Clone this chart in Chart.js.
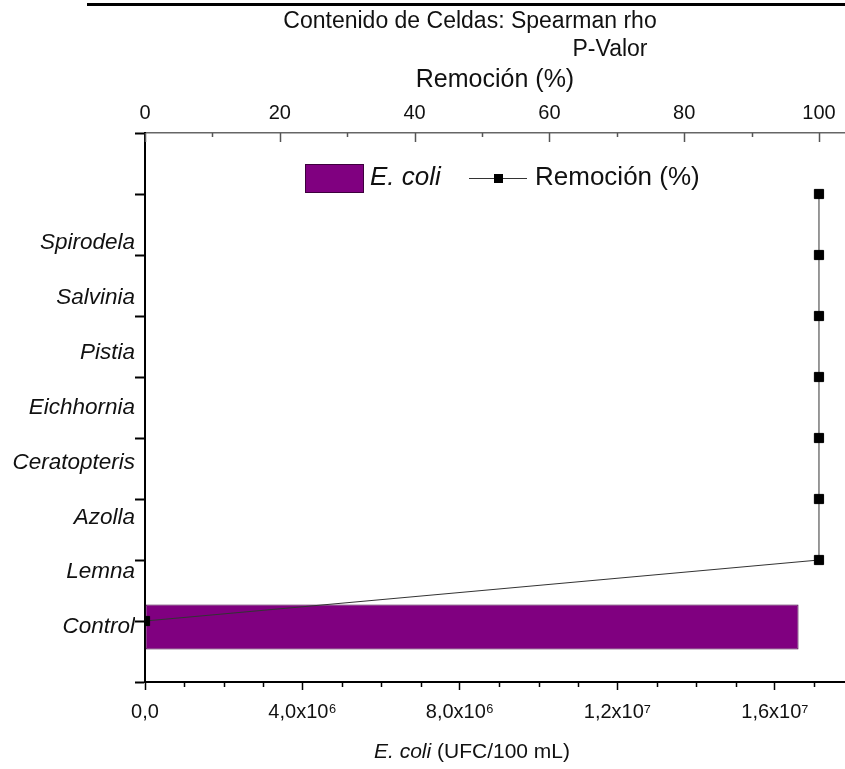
<!DOCTYPE html>
<html>
<head>
<meta charset="utf-8">
<script src="https://cdn.jsdelivr.net/npm/chart.js@4.4.0/dist/chart.umd.min.js"></script>
<style>
  html, body { margin: 0; padding: 0; background: #fff; }
  canvas { display: block; }
</style>
</head>
<body>
<canvas id="chart" width="845" height="769"></canvas>
<script>
// datos
const categories = ['Control', 'Lemna', 'Azolla', 'Ceratopteris', 'Eichhornia', 'Pistia', 'Salvinia', 'Spirodela'];
const ecoli = [16600000, 0, 0, 0, 0, 0, 0, 0];          // UFC/100 mL
const remocion = [0, 100, 100, 100, 100, 100, 100, 100]; // %
const ecoliTicks = [0, 4000000, 8000000, 12000000, 16000000];
const ecoliTickLabels = ['0,0', '4,0x10⁶', '8,0x10⁶', '1,2x10⁷', '1,6x10⁷'];
const remocionTicks = [0, 20, 40, 60, 80, 100];
const headerLines = ['Contenido de Celdas: Spearman rho', 'P-Valor'];

const FONT = "'Liberation Sans', Arial, sans-serif";
Chart.defaults.font.family = FONT;
Chart.defaults.color = '#111';

const decor = {
  id: 'decor',
  afterDraw(chart) {
    const { ctx, chartArea: a, scales } = chart;
    ctx.save();

    // linea superior y encabezados
    ctx.fillStyle = '#000';
    ctx.fillRect(87, 3, chart.width - 87, 3);
    ctx.fillStyle = '#111';
    ctx.textBaseline = 'middle';
    ctx.textAlign = 'center';
    ctx.font = '23px ' + FONT;
    ctx.fillText(headerLines[0], 470, 22);
    ctx.fillText(headerLines[1], 610, 50);

    // ticks menores eje inferior
    ctx.strokeStyle = '#000';
    ctx.lineWidth = 1.5;
    for (let i = 1; i * 1e6 <= scales.x.max; i++) {
      if (i % 4 === 0) continue;
      const px = Math.round(scales.x.getPixelForValue(i * 1e6)) + 0.5;
      ctx.beginPath();
      ctx.moveTo(px, a.bottom);
      ctx.lineTo(px, a.bottom + 5);
      ctx.stroke();
    }

    // ticks hacia adentro eje superior
    ctx.strokeStyle = '#555';
    for (let i = 0; i * 10 <= scales.x2.max; i++) {
      const px = Math.round(scales.x2.getPixelForValue(i * 10)) + 0.5;
      ctx.beginPath();
      ctx.moveTo(px, a.top);
      ctx.lineTo(px, a.top + (i % 2 === 0 ? 9 : 4));
      ctx.stroke();
    }

    // leyenda
    const ly = 178;
    ctx.fillStyle = '#800080';
    ctx.fillRect(305, 164, 59, 29);
    ctx.strokeStyle = '#3d003d';
    ctx.lineWidth = 1;
    ctx.strokeRect(305.5, 164.5, 58, 28);
    ctx.fillStyle = '#111';
    ctx.textAlign = 'left';
    ctx.font = 'italic 26px ' + FONT;
    ctx.fillText(chart.data.datasets[1].label, 370, ly);
    ctx.strokeStyle = '#333';
    ctx.beginPath();
    ctx.moveTo(469, ly + 0.5);
    ctx.lineTo(527, ly + 0.5);
    ctx.stroke();
    ctx.fillStyle = '#000';
    ctx.fillRect(494, ly - 4, 9, 9);
    ctx.fillStyle = '#111';
    ctx.font = '26px ' + FONT;
    ctx.fillText(chart.data.datasets[0].label, 535, ly);

    // titulo eje inferior
    const t1 = 'E. coli', t2 = ' (UFC/100 mL)';
    ctx.font = 'italic 21px ' + FONT;
    const w1 = ctx.measureText(t1).width;
    ctx.font = '21px ' + FONT;
    const w2 = ctx.measureText(t2).width;
    const x0 = 472 - (w1 + w2) / 2;
    ctx.font = 'italic 21px ' + FONT;
    ctx.fillText(t1, x0, 752);
    ctx.font = '21px ' + FONT;
    ctx.fillText(t2, x0 + w1, 752);

    ctx.restore();
  }
};

const ctx = document.getElementById('chart').getContext('2d');
new Chart(ctx, {
  type: 'bar',
  data: {
    datasets: [
      {
        type: 'line',
        label: 'Remoción (%)',
        data: categories.map((c, i) => ({ x: remocion[i], y: i + 1 })),
        xAxisID: 'x2',
        yAxisID: 'y2',
        borderColor: '#333',
        borderWidth: 1,
        pointStyle: 'rect',
        pointRadius: 6.5,
        pointBackgroundColor: '#000',
        pointBorderColor: '#000',
        pointBorderWidth: 1,
        tension: 0,
        fill: false
      },
      {
        type: 'bar',
        label: 'E. coli',
        indexAxis: 'y',
        grouped: false,
        data: categories.map((c, i) => ({ x: ecoli[i], y: i + 1 })),
        xAxisID: 'x',
        yAxisID: 'y',
        backgroundColor: '#800080',
        borderColor: '#3d003d',
        borderWidth: 1,
        borderSkipped: false,
        barPercentage: 0.82,
        categoryPercentage: 1
      }
    ]
  },
  options: {
    responsive: false,
    animation: false,
    layout: { autoPadding: false, padding: { top: 61, right: 0, bottom: 0, left: 0 } },
    plugins: { legend: { display: false }, tooltip: { enabled: false } },
    scales: {
      x: {
        type: 'linear', axis: 'x', position: 'bottom', offset: false,
        min: 0, max: 17780000,
        afterBuildTicks: s => { s.ticks = ecoliTicks.map(v => ({ value: v })); },
        ticks: {
          callback: (v, i) => ecoliTickLabels[i],
          font: { size: 20 }, padding: 10, maxRotation: 0, autoSkip: false
        },
        grid: { display: true, offset: false, drawOnChartArea: false, drawTicks: true, tickLength: 8, color: '#000', tickWidth: 1.5 },
        border: { display: true, color: '#000', width: 2 },
        afterFit: s => { s.height = 87; s.paddingRight = 0; }
      },
      x2: {
        type: 'linear', axis: 'x', position: 'top', offset: false,
        min: 0, max: 103.86,
        afterBuildTicks: s => { s.ticks = remocionTicks.map(v => ({ value: v })); },
        ticks: { font: { size: 20 }, padding: 8, maxRotation: 0, autoSkip: false },
        grid: { display: false, offset: false, drawTicks: false },
        border: { display: true, color: '#666', width: 1.5 },
        title: { display: true, text: 'Remoción (%)', font: { size: 25 }, padding: { top: 4, bottom: 0 } },
        afterFit: s => { s.height = 72; s.paddingRight = 0; }
      },
      y: {
        type: 'linear', axis: 'y', position: 'left', weight: 1, offset: false,
        min: 0, max: 10,
        afterBuildTicks: s => { s.ticks = categories.map((c, i) => ({ value: i + 1 })); },
        ticks: {
          callback: (v, i) => categories[i],
          font: { size: 22.5, style: 'italic' }, padding: 0, autoSkip: false
        },
        grid: { display: false, offset: false, drawTicks: false },
        border: { display: false },
        afterFit: s => { s.width = 135; }
      },
      y2: {
        type: 'linear', axis: 'y', position: 'left', weight: 0, offset: false,
        min: 0, max: 9,
        ticks: { stepSize: 1, display: false },
        grid: { display: true, offset: false, drawOnChartArea: false, drawTicks: true, tickLength: 10, color: '#000', tickWidth: 2 },
        border: { display: true, color: '#000', width: 2 },
        afterFit: s => { s.width = 10; }
      }
    }
  },
  plugins: [decor]
});
</script>
</body>
</html>
